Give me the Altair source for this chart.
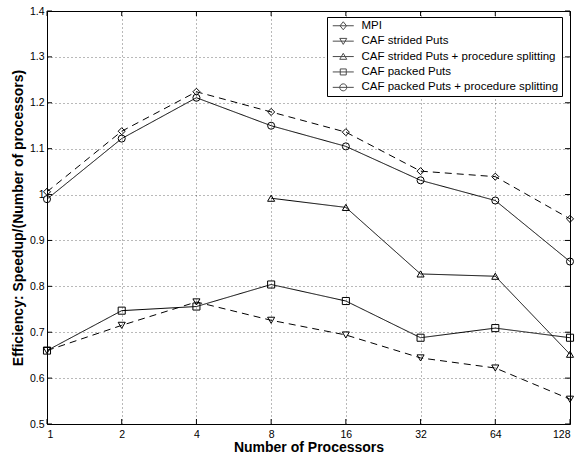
import altair as alt
import pandas as pd

procs = [1, 2, 4, 8, 16, 32, 64, 128]
series_names = [
    "MPI",
    "CAF strided Puts",
    "CAF strided Puts + procedure splitting",
    "CAF packed Puts",
    "CAF packed Puts + procedure splitting",
]
mpi = [1.006, 1.138, 1.224, 1.180, 1.136, 1.051, 1.039, 0.947]
caf_strided = [0.660, 0.715, 0.766, 0.726, 0.694, 0.644, 0.622, 0.554]
caf_strided_split = [None, None, None, 0.992, 0.972, 0.827, 0.822, 0.652]
caf_packed = [0.660, 0.747, 0.756, 0.804, 0.768, 0.688, 0.709, 0.688]
caf_packed_split = [0.990, 1.122, 1.211, 1.150, 1.105, 1.031, 0.987, 0.854]

x_ticks = [1, 2, 4, 8, 16, 32, 64, 128]
y_ticks = [0.5, 0.6, 0.7, 0.8, 0.9, 1.0, 1.1, 1.2, 1.3, 1.4]

shapes = ["diamond", "triangle-down", "triangle-up", "square", "circle"]
dashes = [[7, 5], [7, 5], [1, 0], [1, 0], [1, 0]]
legend_paths = [
    "M-2.1,0H2.1M0,-0.8L0.65,0L0,0.8L-0.65,0Z",
    "M-2.1,0H2.1M-0.7,-0.55L0.7,-0.55L0,0.65Z",
    "M-2.1,0H2.1M-0.7,0.55L0.7,0.55L0,-0.65Z",
    "M-2.1,0H2.1M-0.6,-0.6H0.6V0.6H-0.6Z",
    "M-2.1,0H2.1M0.7,0A0.7,0.7,0,1,1,-0.7,0A0.7,0.7,0,1,1,0.7,0Z",
]

rows = []
for name, vals in zip(series_names, [mpi, caf_strided, caf_strided_split, caf_packed, caf_packed_split]):
    for p, v in zip(procs, vals):
        if v is not None:
            rows.append({"procs": p, "value": v, "series": name, "lseries": name})
df = pd.DataFrame(rows)

W, H = 523, 413
FONT = "Liberation Sans"

xscale = alt.Scale(type="log", base=2, domain=[1, 128], nice=False)
yscale = alt.Scale(domain=[0.5, 1.4], nice=False, zero=False)

xaxis = alt.Axis(values=x_ticks, format="d", title="Number of Processors",
                 grid=True, ticks=False, tickSize=0, labelPadding=5, titlePadding=1,
                 labelFontSize=10.5, titleFontSize=14, titleFontWeight="bold")
yaxis = alt.Axis(values=y_ticks, format="~g", title="Efficiency: Speedup/(Number of processors)",
                 grid=True, ticks=False, tickSize=0, labelPadding=3, titlePadding=4,
                 labelFontSize=10.5, titleFontSize=14, titleFontWeight="bold")

base = alt.Chart(df)

lines = base.mark_line(color="black", strokeWidth=1).encode(
    x=alt.X("procs:Q", scale=xscale, axis=xaxis),
    y=alt.Y("value:Q", scale=yscale, axis=yaxis),
    detail="series:N",
    strokeDash=alt.StrokeDash("series:N", scale=alt.Scale(domain=series_names, range=dashes), legend=None),
    order="procs:Q",
)

points = base.mark_point(color="black", filled=False, size=50, strokeWidth=1, opacity=1).encode(
    x=alt.X("procs:Q", scale=xscale),
    y=alt.Y("value:Q", scale=yscale),
    shape=alt.Shape("series:N", scale=alt.Scale(domain=series_names, range=shapes), legend=None),
)

legend_layer = base.transform_filter("datum.value < 0").mark_point(
    color="black", filled=False, strokeWidth=1
).encode(
    x=alt.X("procs:Q", scale=xscale),
    y=alt.Y("value:Q", scale=yscale),
    shape=alt.Shape(
        "lseries:N",
        scale=alt.Scale(domain=series_names, range=legend_paths),
        legend=alt.Legend(
            orient="none", legendX=280, legendY=6, title=None,
            strokeColor="black", fillColor="white", padding=3,
            symbolSize=100, symbolOffset=7.5, labelOffset=12.5, rowPadding=2.4,
            labelFont=FONT, labelFontSize=11.5, labelColor="black", labelLimit=400,
            symbolStrokeColor="black", symbolFillColor="transparent", symbolStrokeWidth=1,
        ),
    ),
)

xt = pd.DataFrame({"t": x_ticks})
yt = pd.DataFrame({"t": y_ticks})

xb = alt.Chart(xt).mark_rule(color="black", strokeWidth=1).encode(
    x=alt.X("t:Q", scale=xscale), y=alt.value(H), y2=alt.value(H - 5))
xtop = alt.Chart(xt).mark_rule(color="black", strokeWidth=1).encode(
    x=alt.X("t:Q", scale=xscale), y=alt.value(0), y2=alt.value(5))
yl = alt.Chart(yt).mark_rule(color="black", strokeWidth=1).encode(
    y=alt.Y("t:Q", scale=yscale), x=alt.value(0), x2=alt.value(5))
yr = alt.Chart(yt).mark_rule(color="black", strokeWidth=1).encode(
    y=alt.Y("t:Q", scale=yscale), x=alt.value(W), x2=alt.value(W - 5))

chart = alt.layer(lines, points, xb, xtop, yl, yr, legend_layer).resolve_scale(
    shape="independent"
).properties(
    width=W, height=H,
    autosize=alt.AutoSizeParams(type="none"),
    padding={"left": 47, "top": 11, "right": 11, "bottom": 36},
    background="white",
).configure_view(
    stroke="black", strokeWidth=1
).configure_axis(
    domain=False,
    gridColor="black", gridDash=[1, 3], gridOpacity=0.55, gridWidth=1,
    labelFont=FONT, titleFont=FONT, labelColor="black", titleColor="black",
)

chart.save("out.html", embed_options={"renderer": "svg", "actions": False})
